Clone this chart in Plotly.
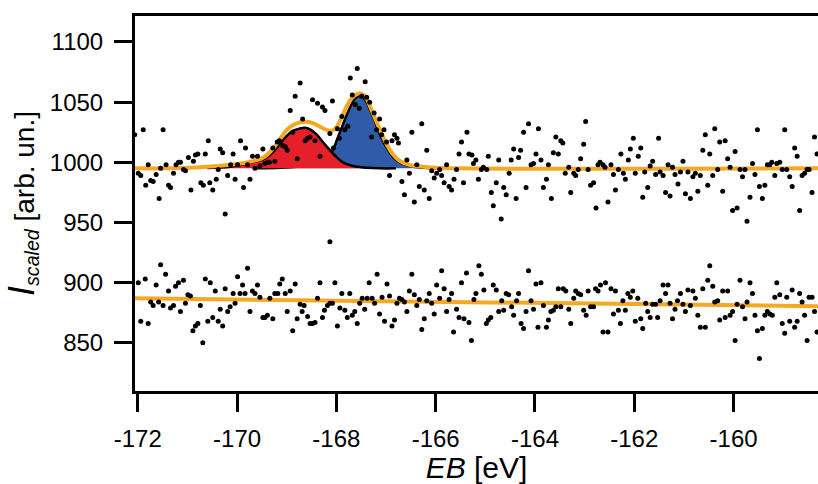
import plotly.graph_objects as go

# ---------------- data ----------------
upper_scan = [
    (-172.06,1023),(-171.89,1027),(-171.99,991),(-171.94,989),(-171.79,998),(-171.84,981),(-171.74,985),(-171.69,984),
    (-171.63,990),(-171.57,970),(-171.54,995),(-171.49,1027),(-171.43,998),(-171.38,981),(-171.34,979),(-171.28,991),
    (-171.23,998),(-171.18,1000),(-171.14,1000),(-171.08,994),(-171.04,993),(-170.98,1004),(-170.93,977),(-170.88,1001),
    (-170.84,1006),(-170.79,1007),(-170.73,983),(-170.68,981),(-170.64,1007),(-170.58,1018),(-170.55,983),(-170.49,977),
    (-170.42,986),(-170.38,994),(-170.34,1011),(-170.29,1008),(-170.24,957),(-170.19,989),(-170.13,998),(-170.08,1007),
    (-170.04,986),(-169.99,998),(-169.93,1018),(-169.87,979),(-169.83,1012),(-169.79,998),(-169.74,986),(-169.69,1005),
    (-169.64,995),(-169.59,1005),(-169.54,997),(-169.48,1011),(-169.44,999),(-169.38,1000),(-169.35,1000),(-169.28,1012),
    (-169.24,1001),(-169.19,1017),(-169.15,1018),(-169.08,1014),(-169.03,1013),(-168.99,1010),(-168.93,1043),(-168.88,1025),
    (-168.83,1055),(-168.79,1003),(-168.73,1066),
    (-168.68,1036),(-168.63,1018),(-168.58,1020),(-168.53,1021),(-168.48,1052),(-168.43,1018),(-168.38,1049),(-168.33,1005),
    (-168.28,1046),(-168.23,1043),(-168.13,1024),(-168.13,934),(-168.08,1051),(-168.06,1012),(-167.98,1028),(-167.94,1020),
    (-167.89,1038),(-167.83,1027),(-167.77,1030),(-167.72,1070),(-167.68,1056),(-167.62,1048),(-167.58,1078),(-167.54,1045),
    (-167.49,1055),(-167.42,1067),(-167.39,1054),(-167.33,1050),(-167.29,1021),(-167.24,1041),(-167.19,1027),(-167.13,1036),
    (-167.09,1023),(-167.04,1027),(-166.99,1017),(-166.93,989),(-166.88,1018),(-166.83,1023),(-166.78,1020),(-166.75,1016),
    (-166.68,984),(-166.63,973),(-166.58,1002),(-166.53,991),(-166.48,1025),(-166.43,967),(-166.38,998),(-166.33,980),
    (-166.28,1032),(-166.23,977),(-166.18,1010),(-166.13,970),(-166.08,993),(-166.03,987),(-165.98,991),(-165.92,994),
    (-165.88,989),(-165.83,983),(-165.78,998),(-165.73,980),(-165.68,977),(-165.63,986),(-165.58,994),(-165.53,1007),
    (-165.48,1017),(-165.44,983),(-165.37,1025),(-165.33,1007),(-165.27,1006),(-165.24,999),
    (-165.19,1002),(-165.14,986),(-165.08,994),(-165.04,996),(-164.97,994),(-164.94,1005),(-164.88,975),(-164.84,964),
    (-164.78,983),(-164.73,1002),(-164.68,953),(-164.63,979),(-164.58,973),(-164.52,991),(-164.48,1002),(-164.43,1011),
    (-164.38,970),(-164.33,1004),(-164.29,1010),(-164.23,1025),(-164.18,979),(-164.13,1032),(-164.08,998),(-164.03,999),
    (-163.98,1007),(-163.93,1028),(-163.88,1002),(-163.83,979),(-163.77,986),(-163.73,998),(-163.67,970),(-163.63,1008),
    (-163.58,1021),(-163.53,1007),(-163.48,1018),(-163.44,1016),(-163.39,991),(-163.32,996),(-163.28,975),(-163.22,991),
    (-163.18,989),(-163.13,994),(-163.08,1003),(-163.02,1015),(-162.98,1034),(-162.93,994),(-162.88,981),(-162.82,983),
    (-162.77,962),(-162.73,998),(-162.69,1000),(-162.63,998),(-162.59,996),(-162.53,967),(-162.47,998),(-162.42,990),
    (-162.38,977),(-162.32,994),(-162.27,1007),(-162.22,991),(-162.18,986),(-162.12,1002),(-162.08,1011),(-162.02,1020),
    (-161.98,991),(-161.92,1005),(-161.87,1012),(-161.83,971),(-161.79,992),
    (-161.73,979),(-161.68,997),(-161.63,1001),(-161.57,990),(-161.51,1020),(-161.48,992),(-161.42,989),(-161.37,975),
    (-161.32,998),(-161.28,972),(-161.23,996),(-161.18,990),(-161.12,982),(-161.07,992),(-161.02,1001),(-160.97,974),
    (-160.92,992),(-160.87,970),(-160.82,988),(-160.77,991),(-160.72,976),(-160.67,989),(-160.62,1010),(-160.57,1023),
    (-160.52,981),(-160.48,1007),(-160.42,989),(-160.38,1028),(-160.32,994),(-160.28,1017),(-160.22,976),(-160.17,1018),
    (-160.12,1003),(-160.07,996),(-160.02,960),(-159.97,1009),(-159.93,962),(-159.87,994),(-159.82,988),(-159.77,994),
    (-159.73,951),(-159.67,971),(-159.62,999),(-159.57,990),(-159.52,1027),(-159.48,980),(-159.42,970),(-159.37,981),
    (-159.32,998),(-159.27,998),(-159.23,1000),(-159.17,989),(-159.13,999),(-159.07,1000),(-159.02,994),(-158.97,1027),
    (-158.93,994),(-158.87,988),(-158.82,980),(-158.77,1012),(-158.72,1005),(-158.67,960),(-158.62,989),(-158.57,991),
    (-158.52,994),(-158.48,994),(-158.42,975),(-158.37,1021),(-158.32,1007),
]

lower_scan = [
    (-171.99,900),(-171.94,868),(-171.85,903),(-171.79,866),(-171.74,884),(-171.69,881),(-171.63,898),(-171.58,884),
    (-171.54,915),(-171.49,881),(-171.44,907),(-171.38,893),(-171.34,879),(-171.28,881),(-171.24,897),(-171.18,900),
    (-171.14,876),(-171.08,902),(-171.04,883),(-170.99,890),(-170.94,889),(-170.89,860),(-170.84,864),(-170.79,866),
    (-170.74,881),(-170.69,850),(-170.64,903),(-170.59,868),(-170.54,900),(-170.49,871),(-170.44,893),(-170.38,868),
    (-170.34,878),(-170.29,864),(-170.24,895),(-170.19,876),(-170.14,880),(-170.08,891),(-170.04,883),(-169.99,905),
    (-169.94,891),(-169.89,898),(-169.84,891),(-169.79,912),(-169.74,876),(-169.69,893),(-169.64,891),(-169.59,898),
    (-169.54,888),(-169.48,871),(-169.44,871),(-169.39,873),(-169.34,887),(-169.28,870),(-169.24,891),(-169.18,891),
    (-169.14,899),(-169.09,903),(-169.03,891),(-168.99,876),(-168.93,893),(-168.88,860),(-168.83,899),(-168.79,870),
    (-168.73,882),(-168.69,876),(-168.65,881),
    (-168.58,872),(-168.53,866),(-168.48,866),(-168.43,867),(-168.38,887),(-168.33,900),(-168.28,871),(-168.24,877),
    (-168.18,881),(-168.13,883),(-168.08,883),(-168.03,900),(-167.98,864),(-167.93,879),(-167.89,891),(-167.83,877),
    (-167.78,871),(-167.73,891),(-167.68,873),(-167.63,876),(-167.58,866),(-167.53,883),(-167.48,887),(-167.43,878),
    (-167.38,887),(-167.34,900),(-167.28,887),(-167.23,883),(-167.18,907),(-167.13,874),(-167.08,888),(-167.03,868),
    (-166.98,899),(-166.93,889),(-166.88,864),(-166.83,869),(-166.78,883),(-166.73,887),(-166.68,886),(-166.63,884),
    (-166.58,876),(-166.53,893),(-166.48,907),(-166.43,890),(-166.38,881),(-166.33,886),(-166.28,861),(-166.23,870),
    (-166.18,885),(-166.13,891),(-166.08,883),(-166.03,874),(-165.98,898),(-165.92,887),(-165.88,910),(-165.83,895),
    (-165.78,876),(-165.73,886),(-165.68,891),(-165.64,859),(-165.58,878),(-165.53,871),(-165.48,900),(-165.43,870),
    (-165.38,908),(-165.33,867),(-165.28,852),(-165.23,886),
    (-165.19,891),(-165.13,914),(-165.08,907),(-165.03,894),(-164.98,866),(-164.94,869),(-164.89,871),(-164.84,898),
    (-164.78,894),(-164.73,876),(-164.67,885),(-164.63,877),(-164.58,891),(-164.53,890),(-164.47,880),(-164.43,873),
    (-164.37,885),(-164.33,891),(-164.28,866),(-164.23,862),(-164.18,876),(-164.13,910),(-164.08,885),(-164.03,878),
    (-163.98,899),(-163.94,863),(-163.88,900),(-163.83,881),(-163.77,863),(-163.73,869),(-163.68,876),(-163.63,877),
    (-163.58,880),(-163.53,895),(-163.48,880),(-163.43,895),(-163.38,893),(-163.32,878),(-163.28,866),(-163.22,887),
    (-163.18,893),(-163.13,891),(-163.08,890),(-163.02,877),(-162.97,873),(-162.93,893),(-162.88,880),(-162.82,880),
    (-162.78,895),(-162.73,893),(-162.68,898),(-162.63,859),(-162.58,900),(-162.53,859),(-162.47,895),(-162.42,874),
    (-162.38,893),(-162.32,877),(-162.28,866),(-162.23,885),(-162.18,877),(-162.13,891),(-162.08,888),(-162.03,893),
    (-161.98,868),(-161.93,887),(-161.87,870),(-161.83,862),
    (-161.77,883),(-161.73,876),(-161.68,871),(-161.63,882),(-161.57,882),(-161.53,871),(-161.48,885),(-161.42,898),
    (-161.37,891),(-161.32,898),(-161.28,883),(-161.23,870),(-161.18,878),(-161.13,885),(-161.07,891),(-161.02,882),
    (-160.97,876),(-160.92,894),(-160.87,881),(-160.82,893),(-160.77,887),(-160.72,873),(-160.67,863),(-160.62,895),
    (-160.57,863),(-160.52,902),(-160.48,914),(-160.42,897),(-160.38,884),(-160.32,885),(-160.28,869),(-160.22,893),
    (-160.17,871),(-160.12,893),(-160.07,873),(-160.02,876),(-159.97,852),(-159.93,882),(-159.87,902),(-159.82,880),
    (-159.77,870),(-159.73,884),(-159.67,900),(-159.62,891),(-159.57,873),(-159.52,860),(-159.48,837),(-159.42,862),
    (-159.37,873),(-159.32,876),(-159.27,874),(-159.22,873),(-159.17,888),(-159.13,900),(-159.07,890),(-159.02,866),
    (-158.97,858),(-158.93,888),(-158.87,868),(-158.82,894),(-158.77,863),(-158.72,868),(-158.67,891),(-158.62,884),
    (-158.57,873),(-158.52,852),(-158.48,888),(-158.42,888),(-158.37,876),(-158.32,859),
]

fit_baseline = 995

red_fit_x = [-170.6, -170.14, -169.74, -169.47, -169.27, -169.13, -169.00, -168.87, -168.73, -168.63,
             -168.53, -168.40, -168.26, -168.13, -167.99, -167.86, -167.66, -167.39, -167.12, -166.8]
red_fit_y = [995.3, 996.3, 999.7, 1002.5, 1008.8, 1015.8, 1021.9, 1026.3, 1028.2, 1028.8,
             1027.4, 1023.3, 1016.3, 1010.2, 1004.1, 999.7, 996.9, 995.5, 995.0, 995.0]

blue_fit_x = [-169.6, -169.13, -168.80, -168.46, -168.26, -168.09, -167.99, -167.86, -167.72, -167.62,
              -167.52, -167.42, -167.32, -167.22, -167.12, -166.98, -166.85, -166.72, -166.52, -166.25, -165.9]
blue_fit_y = [995.0, 995.5, 996.4, 998.6, 1002.5, 1008.8, 1018.5, 1032.4, 1046.2, 1053.2,
              1055.1, 1051.8, 1043.5, 1033.8, 1022.7, 1011.6, 1004.1, 999.7, 996.9, 995.5, 995.0]

upper_fit_x = [-172.06, -171.49, -170.81, -170.14, -169.74, -169.47, -169.27, -169.13, -169.00, -168.87,
               -168.73, -168.60, -168.46, -168.33, -168.19, -168.09, -167.99, -167.86, -167.72, -167.62,
               -167.52, -167.42, -167.32, -167.22, -167.12, -166.98, -166.85, -166.72, -166.52, -166.25,
               -166.11, -165.5, -158.3]
upper_fit_y = [995.0, 995.0, 995.8, 998.0, 1000.5, 1004.1, 1011.6, 1019.9, 1026.8, 1031.0,
               1033.2, 1033.8, 1032.4, 1029.6, 1026.8, 1026.3, 1029.6, 1040.7, 1051.8, 1055.9,
               1057.3, 1055.1, 1046.2, 1036.5, 1026.8, 1014.4, 1006.1, 1001.1, 997.7, 996.4,
               995.8, 995.0, 995.0]

lower_fit_x = [-172.06, -158.3]
lower_fit_y = [887.0, 880.5]

x_ticks = [-172, -170, -168, -166, -164, -162, -160]
x_tick_labels = ["-172", "-170", "-168", "-166", "-164", "-162", "-160"]
y_ticks = [850, 900, 950, 1000, 1050, 1100]
y_tick_labels = ["850", "900", "950", "1000", "1050", "1100"]

# ---------------- styles ----------------
ORANGE = "#F7A823"
RED = "#E6202A"
BLUE = "#2F5BA8"

fig = go.Figure()

# blue component (drawn first, red overlaps it)
fig.add_trace(go.Scatter(x=blue_fit_x, y=[fit_baseline] * len(blue_fit_x), mode="lines",
                         line=dict(width=0, color=BLUE), hoverinfo="skip"))
fig.add_trace(go.Scatter(x=blue_fit_x, y=blue_fit_y, mode="lines", fill="tonexty",
                         fillcolor=BLUE, line=dict(color="black", width=2.5, shape="spline")))
# red component
fig.add_trace(go.Scatter(x=red_fit_x, y=[fit_baseline] * len(red_fit_x), mode="lines",
                         line=dict(width=0, color=RED), hoverinfo="skip"))
fig.add_trace(go.Scatter(x=red_fit_x, y=red_fit_y, mode="lines", fill="tonexty",
                         fillcolor=RED, line=dict(color="black", width=2.5, shape="spline")))

# envelope fits
fig.add_trace(go.Scatter(x=upper_fit_x, y=upper_fit_y, mode="lines",
                         line=dict(color=ORANGE, width=4, shape="spline")))
fig.add_trace(go.Scatter(x=lower_fit_x, y=lower_fit_y, mode="lines",
                         line=dict(color=ORANGE, width=4)))

# measured points
fig.add_trace(go.Scatter(x=[p[0] for p in upper_scan], y=[p[1] for p in upper_scan], mode="markers",
                         marker=dict(color="black", size=5)))
fig.add_trace(go.Scatter(x=[p[0] for p in lower_scan], y=[p[1] for p in lower_scan], mode="markers",
                         marker=dict(color="black", size=5)))

fig.update_layout(
    width=818, height=484,
    margin=dict(l=135, r=0, t=16, b=93),
    plot_bgcolor="white", paper_bgcolor="white",
    showlegend=False,
    font=dict(family="Liberation Sans, Arial, sans-serif", size=24, color="black"),
)
fig.update_xaxes(
    range=[-172.056, -158.30],
    tickvals=x_ticks, ticktext=x_tick_labels,
    showgrid=False, zeroline=False, automargin=False,
    showline=True, linecolor="black", linewidth=3, mirror=True,
    ticks="outside", ticklen=18, tickwidth=3, tickcolor="black",
    ticklabelstandoff=6,
    title=dict(text="<i>EB</i> [eV]", font=dict(size=30), standoff=0),
)
fig.update_yaxes(
    range=[810, 1121.6],
    tickvals=y_ticks, ticktext=y_tick_labels,
    showgrid=False, zeroline=False, automargin=False,
    showline=True, linecolor="black", linewidth=3, mirror=False,
    ticks="outside", ticklen=18, tickwidth=3, tickcolor="black",
    ticklabelstandoff=6,
    title=dict(text="<span style='font-size:36px'><i>I</i></span><sub><i>scaled</i></sub> [arb. un.]",
               font=dict(size=28), standoff=8),
)

fig.write_html(
    "out.html",
    config={"displayModeBar": False},
    post_script="document.body.style.margin='0';document.body.style.overflow='hidden';",
)
